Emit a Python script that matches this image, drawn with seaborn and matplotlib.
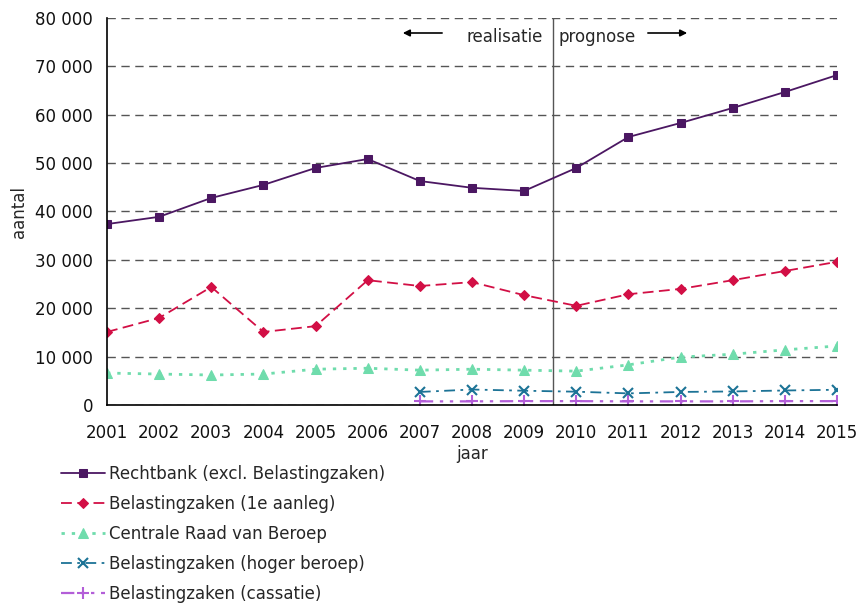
import matplotlib
matplotlib.use("Agg")
import matplotlib.pyplot as plt
import seaborn as sns
import numpy as np
from matplotlib.ticker import FuncFormatter, MultipleLocator

sns.set_style("white")
plt.rcParams['font.family'] = ['DejaVu Sans']

years = list(range(2001, 2016))
rechtbank = [37400, 38900, 42800, 45500, 49000, 50850, 46300, 44900, 44250,
             49000, 55400, 58300, 61400, 64700, 68200]
bel_1e = [15100, 18000, 24400, 15100, 16300, 25800, 24600, 25400, 22700,
          20500, 22900, 24000, 25800, 27700, 29600]
crvb = [6600, 6400, 6200, 6400, 7400, 7600, 7200, 7400, 7200,
        7000, 8300, 9900, 10500, 11400, 12200]
years_hb = list(range(2007, 2016))
bel_hoger = [2700, 3200, 2950, 2750, 2400, 2700, 2800, 3000, 3150]
bel_cass = [750, 750, 800, 800, 750, 750, 750, 800, 800]

labels = ["Rechtbank (excl. Belastingzaken)", "Belastingzaken (1e aanleg)",
          "Centrale Raad van Beroep", "Belastingzaken (hoger beroep)",
          "Belastingzaken (cassatie)"]

FS = 12
fig = plt.figure(figsize=(8.61, 6.06), dpi=100)
ax = fig.add_axes([107/861, 1-405/606, (837-107)/861, (405-18)/606])

series = [
    (years, rechtbank, dict(color="#4b1762", linestyle="-", marker="s", markersize=6, lw=1.3)),
    (years, bel_1e, dict(color="#d20f45", linestyle=(0, (6, 3)), marker="D", markersize=5, lw=1.3)),
    (years, crvb, dict(color="#6fdcac", linestyle=(0, (1.2, 2.5)), marker="^", markersize=7, lw=2)),
    (years_hb, bel_hoger, dict(color="#1c7396", linestyle=(0, (6, 3, 1.5, 3)), marker="x", markersize=7, lw=1.3, markeredgewidth=1.5)),
    (years_hb, bel_cass, dict(color="#b35ed8", linestyle=(0, (6, 3, 1.5, 3, 1.5, 3)), marker="+", markersize=8, lw=1.6, markeredgewidth=1.5)),
]
for (xs, ys, kw), lab in zip(series, labels):
    sns.lineplot(x=xs, y=ys, ax=ax, label=lab, markeredgecolor=kw["color"], **kw)

ax.set_xlim(2001, 2015)
ax.set_ylim(0, 80000)
ax.set_xticks(years)
ax.yaxis.set_major_locator(MultipleLocator(10000))
ax.yaxis.set_major_formatter(FuncFormatter(lambda v, p: f"{int(v):,}".replace(",", " ")))
ax.grid(axis="y", color="#555555", linestyle=(0, (6, 4)), lw=1)
ax.set_axisbelow(True)
for s in ["top", "right"]:
    ax.spines[s].set_visible(False)
for s in ["left", "bottom"]:
    ax.spines[s].set_color("black")
    ax.spines[s].set_linewidth(1.2)
ax.tick_params(axis="both", color="#555555", labelsize=FS, labelcolor="#111111")
ax.tick_params(axis="x", direction="out", length=6, pad=8)
ax.tick_params(axis="y", direction="inout", length=12, pad=4)
ax.set_xlabel("jaar", fontsize=FS, labelpad=2)
ax.set_ylabel("aantal", fontsize=FS, labelpad=5)

ax.axvline(2009.55, color="#555555", lw=1, zorder=1)
ax.text(2009.35, 76000, "realisatie", ha="right", va="center", fontsize=FS)
ax.text(2009.65, 76000, "prognose", ha="left", va="center", fontsize=FS)
ax.annotate("", xy=(2006.62, 76900), xytext=(2007.48, 76900),
            arrowprops=dict(arrowstyle="-|>", color="black", lw=1.2, mutation_scale=10))
ax.annotate("", xy=(2012.18, 76900), xytext=(2011.32, 76900),
            arrowprops=dict(arrowstyle="-|>", color="black", lw=1.2, mutation_scale=10))

h, l = ax.get_legend_handles_labels()
ax.legend_.remove()
fig.legend(h, l, loc="upper left", bbox_to_anchor=(54/861, 1-458/606), frameon=False,
           fontsize=FS, handlelength=2.65, handletextpad=0.25, labelspacing=0.72,
           borderaxespad=0)

fig.savefig("out.png", dpi=100)
